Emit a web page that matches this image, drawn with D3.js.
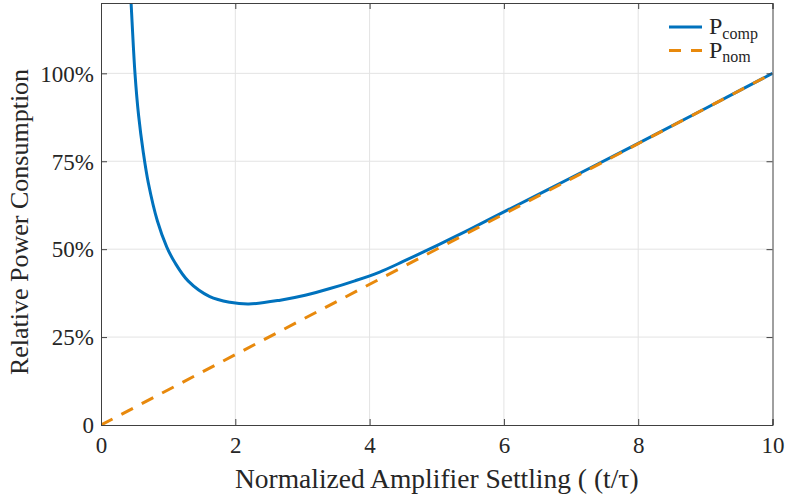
<!DOCTYPE html>
<html>
<head>
<meta charset="utf-8">
<script src="https://cdn.jsdelivr.net/npm/d3@7"></script>
<style>
	body { margin: 0; background: #fff; }
	svg text { font-family: "Liberation Serif", "Times New Roman", serif; fill: #262626; }
</style>
</head>
<body>
<svg id="chart" width="785" height="497"></svg>
<script>
// values
var compX = [0.42, 0.448, 0.506, 0.56, 0.63, 0.705, 0.84, 0.98, 1.10, 1.30, 1.62, 1.92, 2.20, 2.67, 3.04, 3.41, 3.78, 4.15, 4.5, 5.0, 5.5, 6.0, 7.0, 8.0, 9.0, 10.0];
var compY = [1.30, 1.20, 1.00, 0.88, 0.775, 0.688, 0.58, 0.506, 0.462, 0.409, 0.365, 0.349, 0.344, 0.355, 0.369, 0.388, 0.41, 0.435, 0.465, 0.51, 0.557, 0.606, 0.703, 0.801, 0.90, 1.0];
var nomX = [0, 10];
var nomY = [0, 1];
var xTicks = [0, 2, 4, 6, 8, 10];
var yTicks = [0, 0.25, 0.5, 0.75, 1.0];
var yTickLabels = ["0", "25%", "50%", "75%", "100%"];
var seriesNames = ["comp", "nom"];
var seriesColors = ["#0072BD", "#E8890C"];

var margin = {top: 3, right: 12.5, bottom: 72, left: 101};
var width = 785 - margin.left - margin.right;
var height = 497 - margin.top - margin.bottom;

var svg = d3.select("#chart");
var g = svg.append("g")
	.attr("transform", "translate(" + margin.left + "," + margin.top + ")");

var xScale = d3.scaleLinear().domain([0, 10]).range([0, width]);
var yScale = d3.scaleLinear().domain([0, 1.2]).range([height, 0]);

// grid
g.append("g").selectAll("line")
	.data(xTicks.slice(1, -1))
	.join("line")
	.attr("x1", d => xScale(d)).attr("x2", d => xScale(d))
	.attr("y1", 0).attr("y2", height)
	.attr("stroke", "#e3e3e3");
g.append("g").selectAll("line")
	.data(yTicks.slice(1))
	.join("line")
	.attr("x1", 0).attr("x2", width)
	.attr("y1", d => yScale(d)).attr("y2", d => yScale(d))
	.attr("stroke", "#e3e3e3");

// clip for the curves
svg.append("defs").append("clipPath")
	.attr("id", "plotClip")
	.append("rect")
	.attr("width", width).attr("height", height);

var line = d3.line()
	.x(d => xScale(d[0]))
	.y(d => yScale(d[1]))
	.curve(d3.curveCatmullRom.alpha(0.5));

var compData = compX.map((x, i) => [x, compY[i]]);
var nomData = nomX.map((x, i) => [x, nomY[i]]);

var plot = g.append("g").attr("clip-path", "url(#plotClip)");
plot.append("path")
	.datum(compData)
	.attr("d", line)
	.attr("fill", "none")
	.attr("stroke", seriesColors[0])
	.attr("stroke-width", 3);
plot.append("path")
	.datum(nomData)
	.attr("d", line)
	.attr("fill", "none")
	.attr("stroke", seriesColors[1])
	.attr("stroke-width", 3)
	.attr("stroke-dasharray", "13,10");

// axes (box with inward ticks)
var axisColor = "#404040";
var xAxis = g.append("g")
	.attr("transform", "translate(0," + height + ")")
	.call(d3.axisBottom(xScale).tickValues(xTicks).tickSize(-6).tickPadding(12));
var xAxisTop = g.append("g")
	.call(d3.axisTop(xScale).tickValues(xTicks).tickSize(-6).tickFormat(""));
var yAxis = g.append("g")
	.call(d3.axisLeft(yScale).tickValues(yTicks).tickSize(-6).tickPadding(7)
		.tickFormat((d, i) => yTickLabels[i]));
var yAxisRight = g.append("g")
	.attr("transform", "translate(" + width + ",0)")
	.call(d3.axisRight(yScale).tickValues(yTicks).tickSize(-6).tickFormat(""));

[xAxis, xAxisTop, yAxis, yAxisRight].forEach(function(a){
	a.attr("font-family", null).attr("font-size", null);
	a.select(".domain").attr("stroke", axisColor).attr("stroke-width", 1);
	a.selectAll(".tick line").attr("stroke", axisColor);
	a.selectAll("text")
		.attr("fill", "#262626")
		.attr("font-family", "Liberation Serif")
		.style("font-size", "23px");
});
xAxis.selectAll("text").attr("dy", "0.71em");
yAxis.selectAll("text").attr("dy", "0.34em");

// axis labels
svg.append("text")
	.attr("x", margin.left + width / 2)
	.attr("y", 488)
	.attr("text-anchor", "middle")
	.style("font-size", "27.5px")
	.text("Normalized Amplifier Settling ( (t/\u03c4)");

svg.append("text")
	.attr("transform", "translate(28," + 222 + ") rotate(-90)")
	.attr("text-anchor", "middle")
	.style("font-size", "26px")
	.text("Relative Power Consumption");

// legend
var legend = svg.append("g").attr("class", "legend");
seriesNames.forEach(function(name, i){
	var ly = 27 + i * 23.5;
	legend.append("line")
		.attr("x1", 669).attr("x2", 702)
		.attr("y1", ly).attr("y2", ly)
		.attr("stroke", seriesColors[i])
		.attr("stroke-width", 3)
		.attr("stroke-dasharray", i === 1 ? "12,10" : null);
	var t = legend.append("text")
		.attr("x", 709)
		.attr("y", ly + 7)
		.style("font-size", "24px");
	t.append("tspan").text("P");
	t.append("tspan")
		.attr("dy", "0.3em")
		.style("font-size", "16px")
		.text(name);
});
</script>
</body>
</html>
